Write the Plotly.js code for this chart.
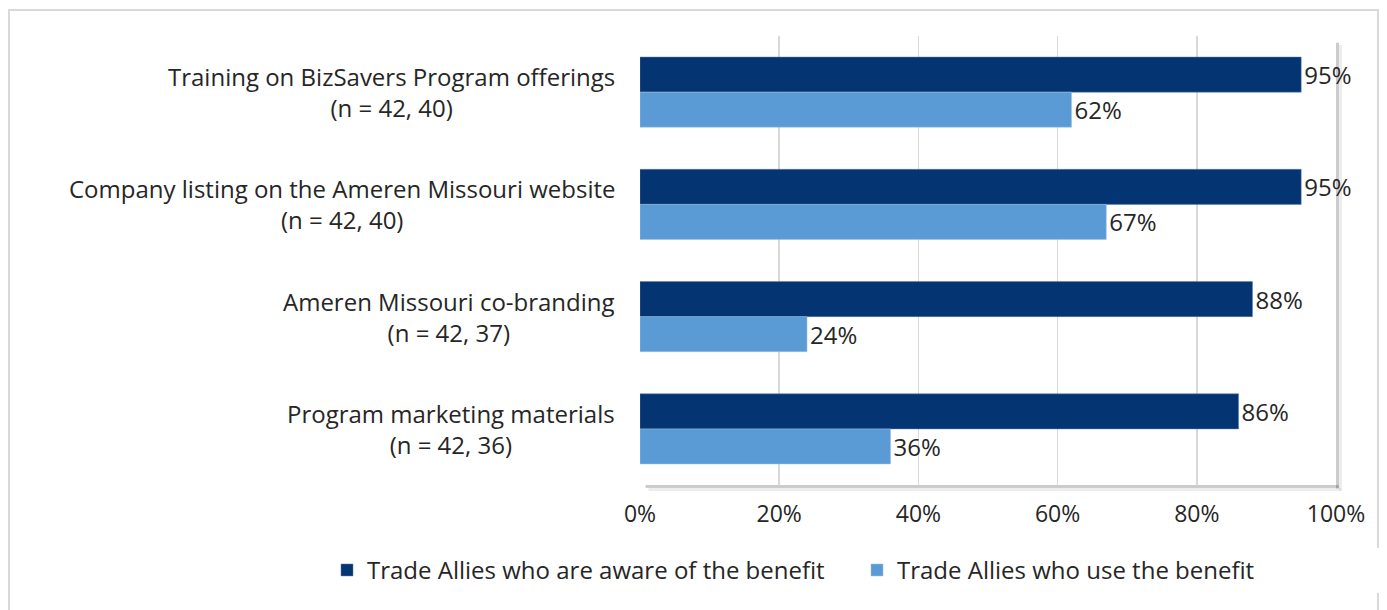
<!DOCTYPE html>
<html>
<head>
<meta charset="utf-8">
<script src="https://cdn.plot.ly/plotly-3.0.1.min.js"></script>
<style>
  html, body { margin: 0; padding: 0; background: #fff; }
  #chart { width: 1387px; height: 610px; }
</style>
</head>
<body>
<div id="chart"></div>
<script>
// benefit categories, top to bottom
var benefits = [
    'Training on BizSavers Program offerings',
    'Company listing on the Ameren Missouri website',
    'Ameren Missouri co-branding',
    'Program marketing materials'
];
var sampleSizes = ['(n = 42, 40)', '(n = 42, 40)', '(n = 42, 37)', '(n = 42, 36)'];

var awarePct = [95, 95, 88, 86];
var usePct = [62, 67, 24, 36];

var xTicks = [0, 20, 40, 60, 80, 100];
var xTickText = xTicks.map(t => t + '%');

var catFont = {family: 'Open Sans, Liberation Sans, sans-serif', size: 24, color: '#262626'};
var numFont = {family: 'Open Sans, Liberation Sans, sans-serif', size: 24, color: '#262626'};
var tickFont = {family: 'Open Sans, Liberation Sans, sans-serif', size: 23, color: '#262626'};

var traceAware = {
    type: 'bar',
    orientation: 'h',
    name: 'Trade Allies who are aware of the benefit',
    y: benefits,
    x: awarePct,
    text: awarePct.map(v => v + '%'),
    textposition: 'outside',
    cliponaxis: false,
    textfont: numFont,
    marker: {color: '#043572', line: {color: '#5a7fb0', width: 0.5}}
};

var traceUse = {
    type: 'bar',
    orientation: 'h',
    name: 'Trade Allies who use the benefit',
    y: benefits,
    x: usePct,
    text: usePct.map(v => v + '%'),
    textposition: 'outside',
    cliponaxis: false,
    textfont: numFont,
    marker: {color: '#5b9bd5', line: {color: '#9cc3e8', width: 0.5}}
};

// category labels: block right-aligned to the axis, lines centred inside it
var annotations = benefits.map(function (b, i) {
    return {
        xref: 'paper', yref: 'y', x: -0.033, y: b,
        text: b + '<br>' + sampleSizes[i],
        showarrow: false, xanchor: 'right', align: 'center', font: catFont
    };
});

// soft drop shadow on the plot area + outer frame
var shapes = [
    {type: 'rect', xref: 'paper', yref: 'paper', xsizemode: 'pixel', xanchor: 1,
     x0: 0, x1: 3, y0: -0.008, y1: 0.985, line: {width: 0}, fillcolor: 'rgba(0,0,0,0.2)', layer: 'below'},
    {type: 'rect', xref: 'paper', yref: 'paper', xsizemode: 'pixel', xanchor: 1,
     x0: 3, x1: 6, y0: -0.012, y1: 0.98, line: {width: 0}, fillcolor: 'rgba(0,0,0,0.07)', layer: 'below'},
    {type: 'rect', xref: 'paper', yref: 'paper', ysizemode: 'pixel', yanchor: 0,
     x0: 0.008, x1: 1.004, y0: -3, y1: 0, line: {width: 0}, fillcolor: 'rgba(0,0,0,0.2)', layer: 'below'},
    {type: 'rect', xref: 'paper', yref: 'paper', ysizemode: 'pixel', yanchor: 0,
     x0: 0.012, x1: 1.008, y0: -6, y1: -3, line: {width: 0}, fillcolor: 'rgba(0,0,0,0.07)', layer: 'below'},
    {type: 'rect', xref: 'paper', yref: 'paper',
     x0: -0.9066, x1: 1.0603, y0: -0.30, y1: 1.0579,
     line: {color: '#d9d9d9', width: 2}, fillcolor: 'rgba(0,0,0,0)', layer: 'below'}
];

var layout = {
    width: 1387,
    height: 610,
    margin: {l: 640, r: 51, t: 36, b: 125},
    paper_bgcolor: '#ffffff',
    plot_bgcolor: '#ffffff',
    barmode: 'group',
    bargap: 0.375,
    bargroupgap: 0,
    showlegend: true,
    legend: {
        orientation: 'h',
        x: -0.443, y: -0.14,
        xanchor: 'left', yanchor: 'top',
        font: catFont,
        itemwidth: 30,
        entrywidth: 485,
        traceorder: 'normal'
    },
    xaxis: {
        range: [0, 100],
        tickvals: xTicks,
        ticktext: xTickText,
        showgrid: true,
        gridcolor: '#d9d9d9',
        gridwidth: 1.5,
        zeroline: false,
        showline: false,
        ticks: '',
        ticklabelstandoff: 13,
        tickfont: tickFont,
        fixedrange: true
    },
    yaxis: {
        autorange: 'reversed',
        showticklabels: false,
        showgrid: false,
        zeroline: false,
        showline: false,
        ticks: '',
        fixedrange: true
    },
    annotations: annotations,
    shapes: shapes
};

Plotly.newPlot('chart', [traceAware, traceUse], layout, {displayModeBar: false, staticPlot: true});
</script>
</body>
</html>
